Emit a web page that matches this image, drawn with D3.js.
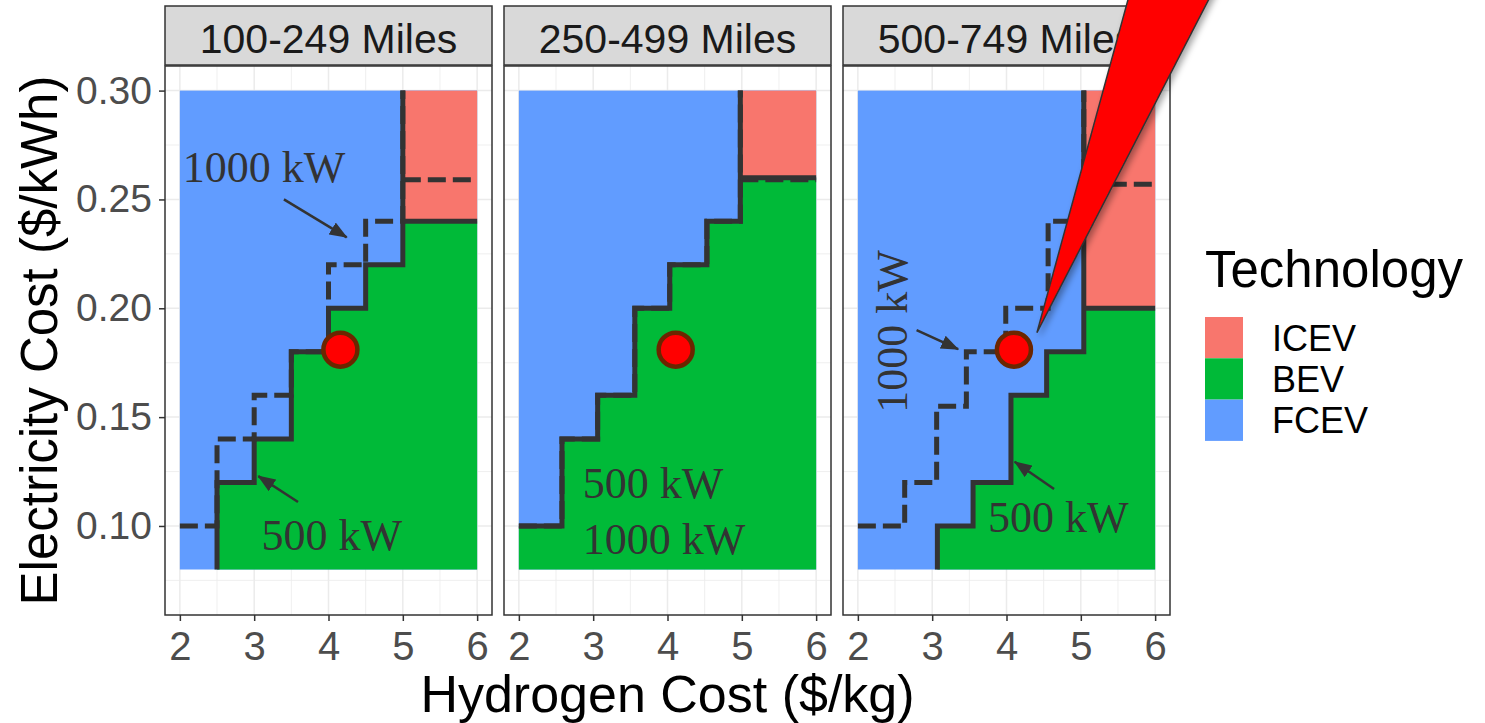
<!DOCTYPE html>
<html>
<head>
<meta charset="utf-8">
<script src="https://cdn.jsdelivr.net/npm/d3@7"></script>
<style>
  body { margin: 0; background: #fff; }
  text { font-family: "Liberation Sans", Arial, sans-serif; }
  .note { font-family: "Liberation Serif", "DejaVu Serif", serif; fill: #333; }
</style>
</head>
<body>
<script>
// ---- data ----
var panels = ["100-249 Miles", "250-499 Miles", "500-749 Miles"];
var techs = ["ICEV", "BEV", "FCEV"];
var techColors = ["#F8766D", "#00BA38", "#619CFF"];
var xTicks = [2, 3, 4, 5, 6];
var yTicks = [0.10, 0.15, 0.20, 0.25, 0.30];
var gridX = [2, 6];          // extent of the cost grid
var gridY = [0.08, 0.30];

// 500 kW boundary BEV / FCEV : at x the boundary steps up to y
var solidX = [[2.5, 2.5, 3.0, 3.5, 4.0, 4.5, 5.0],
              [2.0, 2.58, 3.06, 3.56, 4.03, 4.53, 4.98],
              [3.07, 3.07, 3.55, 4.06, 4.54, 5.04]];
var solidY = [[0.08, 0.12, 0.14, 0.18, 0.20, 0.22, 0.30],
              [0.10, 0.14, 0.16, 0.20, 0.22, 0.24, 0.30],
              [0.08, 0.10, 0.12, 0.16, 0.18, 0.30]];
var iceY500 = [0.24, 0.26, 0.20];

// 1000 kW boundary
var dashX = [[2.0, 2.5, 3.0, 3.5, 4.0, 4.5, 5.0],
             [2.0, 2.58, 3.06, 3.56, 4.03, 4.53, 4.98],
             [2.0, 2.63, 3.06, 3.46, 3.99, 4.56, 5.04]];
var dashY = [[0.10, 0.14, 0.16, 0.18, 0.22, 0.24, 0.30],
             [0.10, 0.14, 0.16, 0.20, 0.22, 0.24, 0.30],
             [0.10, 0.12, 0.155, 0.18, 0.20, 0.24, 0.30]];
var iceY1000 = [0.259, 0.259, 0.257];

// current cost point
var ptX = [4.16, 4.11, 4.10];
var ptY = [0.181, 0.181, 0.181];

// annotations (data units)
var noteText = ["1000 kW", "500 kW", "500 kW", "1000 kW", "500 kW", "1000 kW"];
var notePanel = [0, 0, 1, 1, 2, 2];
var noteX = [2.04, 3.10, 2.86, 2.86, 3.75, 2.66];
var noteY = [0.258, 0.089, 0.113, 0.087, 0.097, 0.152];
var noteAngle = [0, 0, 0, 0, 0, -90];
var arrowPanel = [0, 0, 2, 2];
var arrowX1 = [3.40, 3.59, 4.64, 2.79], arrowY1 = [0.250, 0.111, 0.117, 0.190];
var arrowX2 = [4.245, 3.055, 4.11, 3.35], arrowY2 = [0.2326, 0.1229, 0.1295, 0.1812];

// ---- layout ----
var width = 1485, height = 723;
var panelTop = 66, panelBottom = 615, stripTop = 6;
var panelW = 327, panelStep = 339, firstLeft = 165;

var svg = d3.select("body").append("svg")
	.attr("width", width)
	.attr("height", height);

var defs = svg.append("defs");
defs.append("marker")
	.attr("id", "arrow")
	.attr("markerUnits", "userSpaceOnUse")
	.attr("viewBox", "0 -7 18 14")
	.attr("refX", 17).attr("refY", 0)
	.attr("markerWidth", 18).attr("markerHeight", 14)
	.attr("orient", "auto")
	.append("path")
	.attr("d", "M0,-7L18,0L0,7Z")
	.attr("fill", "#333");

var shadow = defs.append("filter").attr("id", "shadow")
	.attr("x", "-20%").attr("y", "-20%").attr("width", "140%").attr("height", "140%");
shadow.append("feDropShadow")
	.attr("dx", 3).attr("dy", 3).attr("stdDeviation", 3)
	.attr("flood-color", "#000").attr("flood-opacity", 0.35);

var lastScales = null;

panels.forEach(function(name, i){
	var L = firstLeft + i * panelStep;
	var x = d3.scaleLinear().domain([1.8, 6.2]).range([L, L + panelW]);
	var y = d3.scaleLinear().domain([0.0591, 0.3113]).range([panelBottom, panelTop]);
	var g = svg.append("g");

	g.append("rect")
		.attr("x", L).attr("y", panelTop)
		.attr("width", panelW).attr("height", panelBottom - panelTop)
		.attr("fill", "#fff");

	// grid
	var xMinor = xTicks.slice(1).map(function(d){ return d - 0.5; });
	var yMinor = yTicks.map(function(d){ return d - 0.025; });
	g.selectAll(".vminor").data(xMinor).enter().append("line")
		.attr("x1", x).attr("x2", x).attr("y1", panelTop).attr("y2", panelBottom)
		.attr("stroke", "#EBEBEB").attr("stroke-width", 0.8);
	g.selectAll(".hminor").data(yMinor).enter().append("line")
		.attr("y1", y).attr("y2", y).attr("x1", L).attr("x2", L + panelW)
		.attr("stroke", "#EBEBEB").attr("stroke-width", 0.8);
	g.selectAll(".vmajor").data(xTicks).enter().append("line")
		.attr("x1", x).attr("x2", x).attr("y1", panelTop).attr("y2", panelBottom)
		.attr("stroke", "#EBEBEB").attr("stroke-width", 1.5);
	g.selectAll(".hmajor").data(yTicks).enter().append("line")
		.attr("y1", y).attr("y2", y).attr("x1", L).attr("x2", L + panelW)
		.attr("stroke", "#EBEBEB").attr("stroke-width", 1.5);

	// FCEV everywhere first
	g.append("rect")
		.attr("x", x(gridX[0])).attr("y", y(gridY[1]))
		.attr("width", x(gridX[1]) - x(gridX[0]))
		.attr("height", y(gridY[0]) - y(gridY[1]))
		.attr("fill", techColors[2]);

	// BEV below the step boundary
	var n = solidX[i].length;
	var bevPts = solidX[i].map(function(d, j){
		return [d, j === n - 1 ? iceY500[i] : solidY[i][j]];
	});
	bevPts.push([gridX[1], iceY500[i]]);
	var area = d3.area()
		.curve(d3.curveStepAfter)
		.x(function(d){ return x(d[0]); })
		.y0(y(gridY[0]))
		.y1(function(d){ return y(d[1]); });
	g.append("path").attr("d", area(bevPts)).attr("fill", techColors[1]);

	// ICEV corner
	var xIce = solidX[i][n - 1];
	g.append("rect")
		.attr("x", x(xIce)).attr("y", y(gridY[1]))
		.attr("width", x(gridX[1]) - x(xIce))
		.attr("height", y(iceY500[i]) - y(gridY[1]))
		.attr("fill", techColors[0]);

	var step = d3.line()
		.curve(d3.curveStepAfter)
		.x(function(d){ return x(d[0]); })
		.y(function(d){ return y(d[1]); });

	// 1000 kW dashed boundaries
	var dPts = dashX[i].map(function(d, j){ return [d, dashY[i][j]]; });
	var xIce2 = dashX[i][dashX[i].length - 1];
	g.append("path").attr("d", step(dPts))
		.attr("fill", "none").attr("stroke", "#333").attr("stroke-width", 5)
		.attr("stroke-dasharray", "18,7");
	g.append("path").attr("d", step([[xIce2, iceY1000[i]], [gridX[1], iceY1000[i]]]))
		.attr("fill", "none").attr("stroke", "#333").attr("stroke-width", 5)
		.attr("stroke-dasharray", "18,7");

	// 500 kW solid boundaries
	var sPts = solidX[i].map(function(d, j){ return [d, solidY[i][j]]; });
	g.append("path").attr("d", step(sPts))
		.attr("fill", "none").attr("stroke", "#333").attr("stroke-width", 5);
	g.append("path").attr("d", step([[xIce, iceY500[i]], [gridX[1], iceY500[i]]]))
		.attr("fill", "none").attr("stroke", "#333").attr("stroke-width", 5);

	// current point
	g.append("circle")
		.attr("cx", x(ptX[i])).attr("cy", y(ptY[i]))
		.attr("r", 17)
		.attr("fill", "#FF0000")
		.attr("stroke", "#6B2600")
		.attr("stroke-width", 4.5);

	// annotations
	noteText.forEach(function(t, k){
		if (notePanel[k] !== i) return;
		g.append("text")
			.attr("class", "note")
			.attr("transform", "translate(" + x(noteX[k]) + "," + y(noteY[k]) + ") rotate(" + noteAngle[k] + ")")
			.attr("font-size", 44)
			.text(t);
	});
	arrowPanel.forEach(function(p, k){
		if (p !== i) return;
		g.append("line")
			.attr("x1", x(arrowX1[k])).attr("y1", y(arrowY1[k]))
			.attr("x2", x(arrowX2[k])).attr("y2", y(arrowY2[k]))
			.attr("stroke", "#333").attr("stroke-width", 2.5)
			.attr("marker-end", "url(#arrow)");
	});

	// panel border
	g.append("rect")
		.attr("x", L).attr("y", panelTop)
		.attr("width", panelW).attr("height", panelBottom - panelTop)
		.attr("fill", "none").attr("stroke", "#333").attr("stroke-width", 1.5);

	// strip
	g.append("rect")
		.attr("x", L).attr("y", stripTop)
		.attr("width", panelW).attr("height", panelTop - stripTop - 1)
		.attr("fill", "#D9D9D9").attr("stroke", "#333").attr("stroke-width", 1.5);
	g.append("text")
		.attr("x", L + panelW / 2).attr("y", 53)
		.attr("text-anchor", "middle")
		.attr("font-size", 41)
		.attr("fill", "#1A1A1A")
		.text(name);

	// x axis
	var xa = g.append("g")
		.attr("transform", "translate(0," + panelBottom + ")")
		.call(d3.axisBottom(x).tickValues(xTicks).tickFormat(d3.format("d")).tickSize(6).tickPadding(11));
	xa.select(".domain").remove();
	xa.selectAll("line").attr("stroke", "#333").attr("stroke-width", 1.5);
	xa.selectAll("text").attr("font-size", 40).attr("fill", "#4D4D4D")
		.attr("font-family", "Liberation Sans, Arial, sans-serif");

	if (i === 0) {
		var ya = g.append("g")
			.attr("transform", "translate(" + L + ",0)")
			.call(d3.axisLeft(y).tickValues(yTicks).tickFormat(d3.format(".2f")).tickSize(6).tickPadding(7));
		ya.select(".domain").remove();
		ya.selectAll("line").attr("stroke", "#333").attr("stroke-width", 1.5);
		ya.selectAll("text").attr("font-size", 39).attr("fill", "#4D4D4D")
			.attr("font-family", "Liberation Sans, Arial, sans-serif");
	}
	lastScales = {x: x, y: y, i: i};
});

// axis titles
svg.append("text")
	.attr("x", firstLeft + (2 * panelStep + panelW) / 2).attr("y", 712)
	.attr("text-anchor", "middle")
	.attr("font-size", 52)
	.attr("fill", "#000")
	.text("Hydrogen Cost ($/kg)");
svg.append("text")
	.attr("transform", "translate(57," + (panelTop + panelBottom) / 2 + ") rotate(-90)")
	.attr("text-anchor", "middle")
	.attr("font-size", 51)
	.attr("fill", "#000")
	.text("Electricity Cost ($/kWh)");

// legend
var lg = svg.append("g").attr("transform", "translate(1205,0)");
lg.append("text").attr("x", 0).attr("y", 287).attr("font-size", 51).attr("fill", "#000").text("Technology");
var keyH = 41.3;
techs.forEach(function(t, k){
	lg.append("rect")
		.attr("x", 0).attr("y", 317 + k * keyH)
		.attr("width", 38).attr("height", keyH)
		.attr("fill", techColors[k]);
	lg.append("text")
		.attr("x", 67).attr("y", 317 + k * keyH + keyH / 2)
		.attr("dy", "0.36em")
		.attr("font-size", 36)
		.attr("fill", "#000")
		.text(t);
});

// big red callout pointing at the 500-749 Miles point
var cx = lastScales.x(ptX[2]), cy = lastScales.y(ptY[2]);
var tipX = cx + 23, tipY = cy - 17;
svg.append("path")
	.attr("d", "M" + tipX + "," + tipY + "L" + (tipX + 96) + "," + (tipY - 351) +
		"L" + (tipX + 181) + "," + (tipY - 351) + "Z")
	.attr("fill", "#FF0000")
	.attr("stroke", "#333")
	.attr("stroke-width", 1.5)
	.attr("filter", "url(#shadow)");
</script>
</body>
</html>
